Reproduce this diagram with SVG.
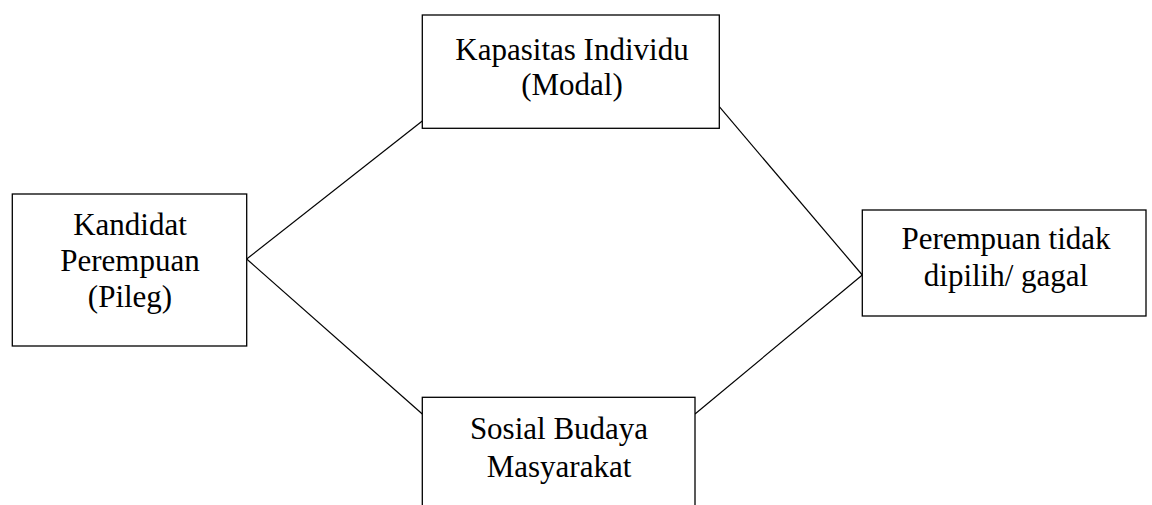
<svg xmlns="http://www.w3.org/2000/svg" width="1152" height="505" viewBox="0 0 1152 505">
<style>
.box{fill:#fff;stroke:#000;stroke-width:1.3}
.t{font-family:"Liberation Serif","Times New Roman",serif;font-size:31px;fill:#000;text-anchor:middle}
.c{stroke:#000;stroke-width:1.2;fill:none}
</style>
<rect width="1152" height="505" fill="#fff"/>
<g id="connectors">
<line class="c" x1="246.7" y1="259" x2="422.3" y2="121"/>
<line class="c" x1="246.7" y1="259" x2="422.3" y2="414"/>
<line class="c" x1="719.3" y1="106.7" x2="862.3" y2="275"/>
<line class="c" x1="695" y1="414" x2="862.3" y2="275"/>
</g>
<g id="kandidat">
<rect class="box" x="12.3" y="194" width="234.4" height="152"/>
<text class="t" x="130" y="235">Kandidat</text>
<text class="t" x="130" y="271">Perempuan</text>
<text class="t" x="130" y="307">(Pileg)</text>
</g>
<g id="kapasitas">
<rect class="box" x="422.3" y="15" width="297" height="113.3"/>
<text class="t" x="572" y="60">Kapasitas Individu</text>
<text class="t" x="572" y="95">(Modal)</text>
</g>
<g id="sosial">
<rect class="box" x="422.3" y="397.3" width="272.7" height="120"/>
<text class="t" x="559" y="439">Sosial Budaya</text>
<text class="t" x="559" y="477">Masyarakat</text>
</g>
<g id="perempuan">
<rect class="box" x="862.3" y="210" width="283.7" height="106"/>
<text class="t" x="1006" y="249">Perempuan tidak</text>
<text class="t" x="1006" y="286">dipilih/ gagal</text>
</g>
</svg>
